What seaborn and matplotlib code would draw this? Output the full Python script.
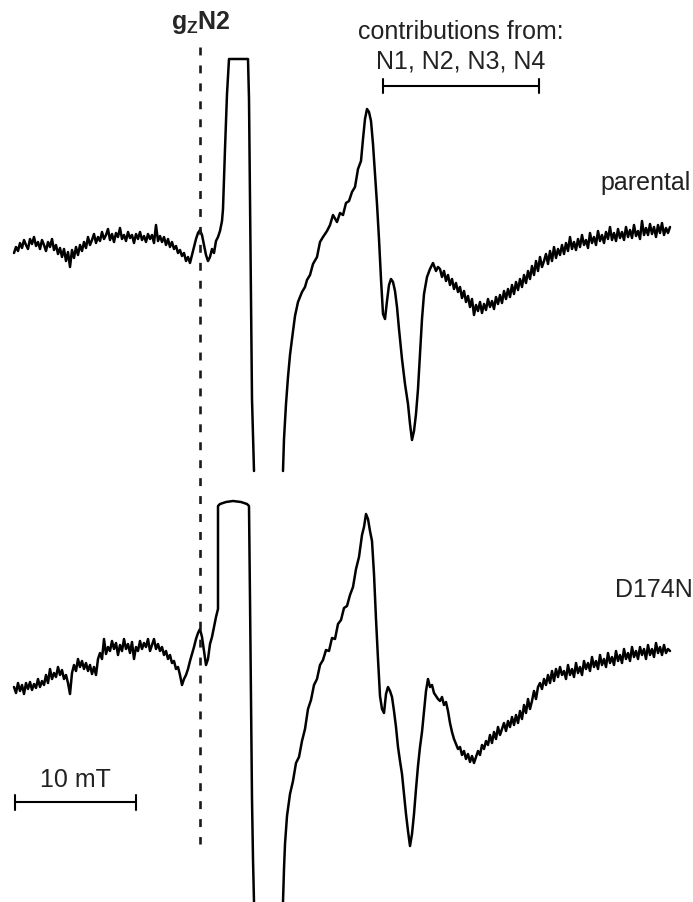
"""
EPR spectra of parental and D174N, redrawn from the figure.
Coordinates are read off the picture in pixel units (x right, y down).
Noisy stretches are sampled every 2 px, steep stretches are listed point by point.
"""

import pandas as pd
import matplotlib
matplotlib.use("Agg")
import matplotlib.pyplot as plt
import seaborn as sns

##### parental trace
# noisy baseline, x = 14, 16, 18, ...
par_base_start = 14
par_base_y = [254, 248, 252, 244, 249, 241, 246, 250, 240, 245, 238, 247, 243, 250, 241, 246, 252, 243, 248, 240,
              251, 246, 255, 249, 258, 250, 262, 253, 268, 251, 259, 248, 256, 246, 252, 243, 249, 238, 246, 241,
              235, 244, 238, 242, 233, 240, 236, 230, 241, 235, 243, 234, 238, 229, 240, 236, 242, 233, 239, 236,
              244, 235, 240, 233, 241, 237, 243, 235, 240, 236, 244, 226, 242, 237, 243, 238, 246, 240, 248, 243,
              250, 247, 254, 251, 257, 254, 262, 258, 264]
# gzN2 feature, rise to the clipped top and the drop off scale
par_peak_x = [192, 194, 196, 198, 200, 202, 204, 206, 208, 210, 212, 214, 216, 218, 220, 222, 223, 225, 227, 229,
              248, 249, 250, 251, 252, 254]
par_peak_y = [256, 248, 240, 234, 231, 236, 246, 256, 262, 258, 250, 254, 242, 238, 232, 222, 210, 150, 95, 60,
              60, 100, 200, 300, 400, 472]
# back from off scale, main derivative shape
par_main_x = [283, 284, 286, 288, 290, 292, 295, 298, 302, 305, 307, 310, 313, 317, 320, 323, 327, 330, 333, 337,
              340, 343, 346, 349, 352, 355, 358, 361, 363, 365, 367, 369, 371, 373, 375, 377, 379, 381, 383, 385,
              387, 389, 391, 393, 395, 397, 399, 402, 405, 408, 410, 412, 414, 416, 418, 420, 422, 424, 427, 430,
              433, 436, 438]
par_main_y = [472, 440, 405, 378, 356, 340, 317, 303, 293, 288, 281, 276, 265, 258, 243, 238, 232, 226, 216, 223,
              214, 216, 204, 202, 193, 188, 170, 162, 140, 120, 110, 113, 122, 145, 175, 205, 240, 280, 315, 320,
              302, 286, 280, 283, 292, 308, 330, 360, 385, 405, 425, 441, 432, 415, 390, 355, 320, 295, 278, 270,
              264, 272, 268]
# noisy tail, x = 440, 442, ...
par_tail_start = 440
par_tail_y = [270, 278, 272, 282, 276, 286, 280, 290, 284, 293, 288, 299, 292, 303, 297, 308, 300, 316, 306, 312,
              303, 314, 305, 311, 300, 308, 302, 310, 298, 305, 296, 304, 292, 300, 290, 298, 286, 295, 283, 291,
              280, 288, 276, 284, 272, 280, 267, 276, 262, 272, 258, 268, 262, 255, 265, 252, 262, 248, 259, 250,
              256, 246, 255, 244, 252, 238, 250, 243, 251, 240, 248, 236, 246, 241, 249, 234, 244, 238, 246, 232,
              242, 236, 244, 233, 240, 228, 241, 234, 242, 230, 239, 233, 241, 228, 238, 231, 239, 226, 237, 232,
              240, 222, 236, 229, 236, 225, 235, 228, 238, 226, 234, 224, 236, 229, 234, 228]

##### D174N trace
mut_base_start = 14
mut_base_y = [688, 694, 684, 692, 686, 695, 684, 690, 683, 691, 685, 689, 680, 688, 682, 686, 676, 684, 670, 680,
              674, 678, 668, 676, 671, 680, 676, 684, 695, 674, 666, 672, 660, 668, 662, 670, 664, 672, 666, 675,
              668, 676, 660, 654, 660, 640, 655, 648, 652, 642, 650, 644, 656, 646, 652, 640, 650, 645, 654, 643,
              660, 648, 652, 642, 650, 644, 648, 640, 652, 646, 640, 650, 645, 652, 648, 656, 652, 660, 656, 664,
              662, 670, 668, 676, 686, 680]
mut_peak_x = [186, 188, 190, 192, 194, 196, 198, 200, 202, 204, 206, 208, 210, 212, 214, 216, 218, 218, 220, 226,
              233, 241, 247, 249, 250, 251, 252, 253, 254]
mut_peak_y = [676, 670, 662, 655, 648, 640, 634, 630, 638, 652, 666, 660, 645, 638, 628, 618, 610, 507, 505, 503,
              502, 503, 505, 507, 600, 700, 800, 860, 903]
mut_main_x = [283, 284, 285, 287, 290, 293, 296, 299, 302, 305, 308, 311, 314, 317, 320, 323, 326, 329, 332, 335,
              338, 341, 344, 347, 350, 353, 356, 359, 362, 364, 366, 368, 370, 372, 374, 376, 378, 380, 382, 384,
              386, 388, 390, 392, 394, 396, 398, 400, 402, 404, 406, 408, 410, 412, 414, 416, 418, 420, 422, 424,
              426, 428, 430, 432, 434, 436, 438]
mut_main_y = [903, 870, 845, 817, 795, 782, 764, 758, 742, 730, 710, 701, 686, 680, 666, 661, 651, 652, 639, 640,
              625, 621, 609, 607, 596, 588, 570, 558, 536, 528, 515, 520, 532, 542, 575, 620, 660, 697, 710, 714,
              695, 688, 692, 698, 712, 728, 748, 762, 775, 795, 815, 832, 847, 835, 815, 790, 767, 748, 733, 712,
              692, 680, 688, 686, 694, 697, 700]
mut_tail_start = 440
mut_tail_y = [702, 698, 706, 703, 712, 724, 733, 740, 745, 750, 748, 756, 752, 760, 755, 763, 757, 764, 758, 752,
              756, 746, 750, 742, 746, 736, 744, 733, 740, 728, 736, 730, 724, 732, 722, 728, 718, 726, 716, 724,
              712, 720, 706, 714, 700, 710, 702, 692, 700, 688, 684, 690, 680, 686, 676, 684, 672, 682, 670, 678,
              668, 676, 672, 680, 666, 676, 670, 678, 664, 674, 668, 676, 662, 670, 664, 672, 658, 668, 662, 670,
              656, 666, 660, 668, 654, 664, 658, 666, 652, 662, 656, 664, 650, 660, 654, 662, 648, 658, 652, 660,
              648, 656, 650, 660, 646, 656, 650, 658, 644, 654, 648, 656, 646, 654, 650, 652]

# labels
gz_label = r"$\mathbf{g_{Z}N2}$"
contrib_lines = ["contributions from:", "N1, N2, N3, N4"]
sample_names = ["parental", "D174N"]
scale_label = "10 mT"


def sampled(start, ys):
    # noisy stretches were read every 2 px along the field axis
    return [start + 2 * i for i in range(len(ys))]


# First piece of each trace runs from the left edge up to where the signal goes off scale,
# second piece comes back from off scale and runs to the right edge
pieces = [
    ("parental", 0, sampled(par_base_start, par_base_y) + par_peak_x, par_base_y + par_peak_y),
    ("parental", 1, par_main_x + sampled(par_tail_start, par_tail_y), par_main_y + par_tail_y),
    ("D174N", 2, sampled(mut_base_start, mut_base_y) + mut_peak_x, mut_base_y + mut_peak_y),
    ("D174N", 3, mut_main_x + sampled(mut_tail_start, mut_tail_y), mut_main_y + mut_tail_y),
]
frames = []
for name, seg, xs, ys in pieces:
    frames.append(pd.DataFrame({"x": xs, "y": ys, "sample": name, "seg": seg}))
spectra = pd.concat(frames, axis = 0, ignore_index = True)

sns.set_style("white")
plt.rcParams["font.family"] = ["Liberation Sans", "DejaVu Sans"]
plt.rcParams["mathtext.fontset"] = "custom"
plt.rcParams["mathtext.bf"] = "Liberation Sans:bold"
plt.rcParams["mathtext.rm"] = "Liberation Sans"

fig = plt.figure(figsize = (6.93, 9.03), dpi = 100)
ax = fig.add_axes([0, 0, 1, 1])
sns.lineplot(data = spectra, x = "x", y = "y", units = "seg", estimator = None, sort = False,
             color = "black", linewidth = 1.8, ax = ax, legend = False)
ax.set_xlim(0, 693)
ax.set_ylim(903, 0)
ax.axis("off")

# dashed marker at gzN2
ax.plot([200, 200], [48, 845], color = "#1a1a1a", linewidth = 1.9, linestyle = (0, (3.0, 3.8)))
ax.text(201, 29, gz_label, fontsize = 18, ha = "center", va = "baseline")

# contributions bracket
ax.text(461, 39, contrib_lines[0], fontsize = 18, ha = "center", va = "baseline", color = "#222222")
ax.text(461, 68, contrib_lines[1], fontsize = 18, ha = "center", va = "baseline", color = "#222222")
ax.plot([383, 539], [87, 87], color = "black", linewidth = 1.5)
ax.plot([383, 383], [80, 94], color = "black", linewidth = 1.5)
ax.plot([539, 539], [80, 94], color = "black", linewidth = 1.5)

# sample names
ax.text(691, 190, sample_names[0], fontsize = 18, ha = "right", va = "baseline", color = "#222222")
ax.text(693, 597, sample_names[1], fontsize = 18, ha = "right", va = "baseline", color = "#222222")

# scale bar
ax.text(75, 787, scale_label, fontsize = 18, ha = "center", va = "baseline", color = "#222222")
ax.plot([15, 136], [803, 803], color = "black", linewidth = 1.5)
ax.plot([15, 15], [796, 811], color = "black", linewidth = 1.5)
ax.plot([136, 136], [796, 811], color = "black", linewidth = 1.5)

plt.savefig("out.png", dpi = 100)
